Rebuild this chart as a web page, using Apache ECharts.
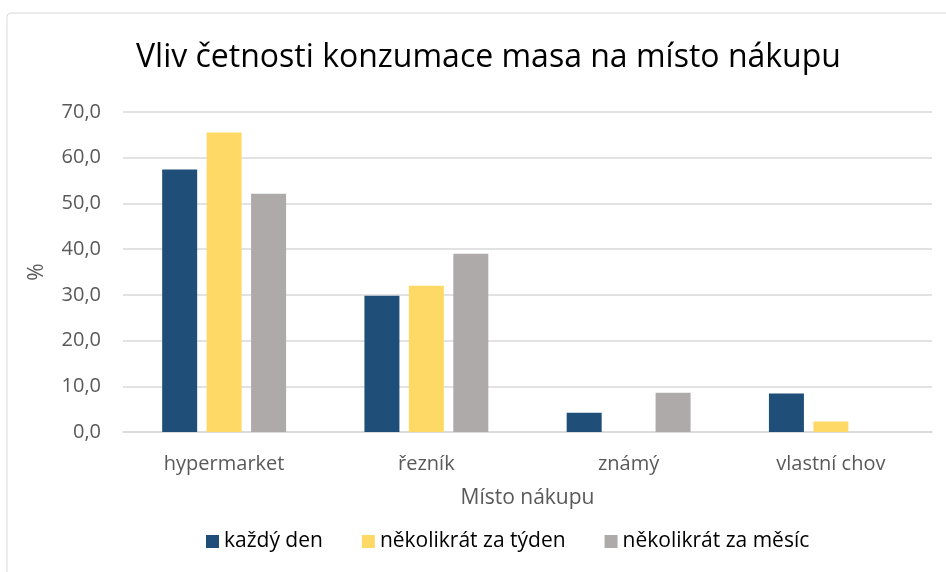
<!DOCTYPE html>
<html><head><meta charset="utf-8">
<script src="https://cdn.jsdelivr.net/npm/echarts@6/dist/echarts.min.js"></script>
<style>html,body{margin:0;padding:0;background:#fff}#c{width:946px;height:572px}</style>
</head><body><div id="c"></div>
<script>
const categories = ['hypermarket', 'řezník', 'známý', 'vlastní chov'];
const seriesNames = ['každý den', 'několikrát za týden', 'několikrát za měsíc'];
const kazdyDen = [57.4, 29.8, 4.2, 8.4];
const tydne = [65.5, 32.0, 0, 2.3];
const mesicne = [52.1, 39.0, 8.6, 0];
const colors = ['#1f4e79', '#ffd966', '#aeaaaa'];
const FONT = 'Open Sans';

const chart = echarts.init(document.getElementById('c'));
const mk = (name, data, i) => ({
  name, type: 'bar', data, barWidth: 35, barGap: '27%',
  itemStyle: { color: colors[i] }
});
chart.setOption({
  animation: false,
  textStyle: { fontFamily: FONT },
  graphic: [{ type: 'rect', shape: { x: 7, y: 13, width: 960, height: 600, r: 4 },
    style: { fill: 'none', stroke: '#d9d9d9', lineWidth: 1 }, silent: true }],
  title: { text: 'Vliv četnosti konzumace masa na místo nákupu', left: 131, top: 37,
    textStyle: { fontFamily: FONT, fontSize: 32, fontWeight: 'normal', color: '#000' } },
  legend: { bottom: 15, left: 201, itemWidth: 13, itemHeight: 13, itemGap: 39,
    icon: 'rect', textStyle: { fontFamily: FONT, fontSize: 21, color: '#000' },
    data: seriesNames },
  grid: { left: 123, right: 14, top: 112, bottom: 140, containLabel: false },
  xAxis: { type: 'category', data: categories,
    name: 'Místo nákupu', nameLocation: 'middle', nameGap: 56,
    nameTextStyle: { fontFamily: FONT, fontSize: 21, color: '#595959' },
    axisLine: { lineStyle: { color: '#d9d9d9', width: 1.5 } }, axisTick: { show: false },
    axisLabel: { fontFamily: FONT, fontSize: 20, color: '#595959', margin: 22 } },
  yAxis: { type: 'value', min: 0, max: 70, interval: 10,
    name: '%', nameLocation: 'middle', nameGap: 75, nameRotate: 90,
    nameTextStyle: { fontFamily: FONT, fontSize: 21, color: '#595959' },
    axisLine: { show: false }, axisTick: { show: false },
    splitLine: { lineStyle: { color: '#d9d9d9', width: 1.5 } },
    axisLabel: { fontFamily: FONT, fontSize: 20, color: '#595959', margin: 22,
      formatter: v => v.toFixed(1).replace('.', ',') } },
  series: [mk(seriesNames[0], kazdyDen, 0), mk(seriesNames[1], tydne, 1), mk(seriesNames[2], mesicne, 2)]
});
</script></body></html>
